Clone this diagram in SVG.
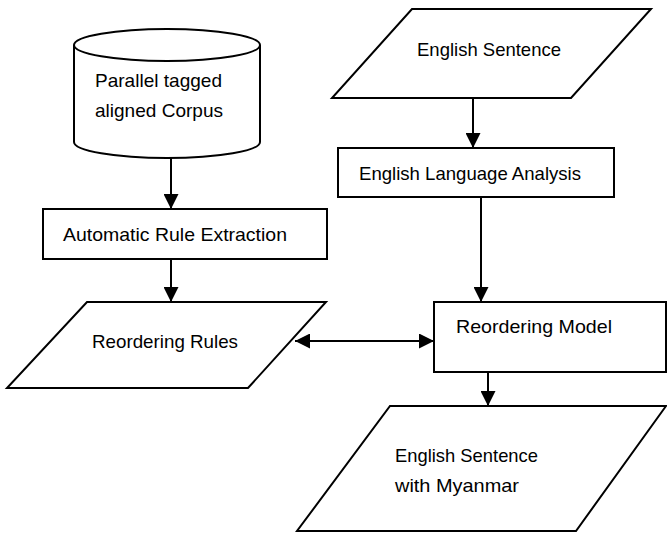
<svg xmlns="http://www.w3.org/2000/svg" width="667" height="533" viewBox="0 0 667 533">
<style>
.shape{fill:#fff;stroke:#000;stroke-width:2}
.lbl{font-family:"Liberation Sans",Arial,sans-serif;font-size:19px;fill:#000}
.conn{stroke:#000;stroke-width:2;fill:none}
</style>
<defs>
<marker id="arr" viewBox="0 0 15 15" refX="15" refY="7.5" markerWidth="15" markerHeight="15" markerUnits="userSpaceOnUse" orient="auto-start-reverse">
<path d="M0,0 L15,7.5 L0,15 z" fill="#000"/>
</marker>
</defs>
<rect width="667" height="533" fill="#fff"/>
<g id="corpus">
<path class="shape" d="M74,45 L74,142 A93,16 0 0 0 260,142 L260,45 A93,16 0 0 0 74,45 Z"/>
<path class="shape" style="fill:none" d="M74,45 A93,16 0 0 0 260,45"/>
<text class="lbl" x="95" y="87" textLength="127" lengthAdjust="spacingAndGlyphs">Parallel tagged</text>
<text class="lbl" x="95" y="117" textLength="128" lengthAdjust="spacingAndGlyphs">aligned Corpus</text>
</g>
<g id="english-sentence">
<polygon class="shape" points="412,9 651,9 571,98 332,98"/>
<text class="lbl" x="417" y="56" textLength="144" lengthAdjust="spacingAndGlyphs">English Sentence</text>
</g>
<g id="english-language-analysis">
<rect class="shape" x="338" y="148" width="276" height="49"/>
<text class="lbl" x="359" y="180" textLength="222" lengthAdjust="spacingAndGlyphs">English Language Analysis</text>
</g>
<g id="automatic-rule-extraction">
<rect class="shape" x="43" y="209" width="284" height="50"/>
<text class="lbl" x="63" y="241" textLength="224" lengthAdjust="spacingAndGlyphs">Automatic Rule Extraction</text>
</g>
<g id="reordering-rules">
<polygon class="shape" points="87,302 326,302 248,388 7,388"/>
<text class="lbl" x="92" y="348" textLength="146" lengthAdjust="spacingAndGlyphs">Reordering Rules</text>
</g>
<g id="reordering-model">
<rect class="shape" x="434" y="302" width="232" height="70"/>
<text class="lbl" x="456" y="333" textLength="156" lengthAdjust="spacingAndGlyphs">Reordering Model</text>
</g>
<g id="english-sentence-myanmar">
<polygon class="shape" points="390,406 666,406 576,531 297,531"/>
<text class="lbl" x="395" y="462" textLength="143" lengthAdjust="spacingAndGlyphs">English Sentence</text>
<text class="lbl" x="395" y="492" textLength="124" lengthAdjust="spacingAndGlyphs">with Myanmar</text>
</g>
<g id="connectors">
<line class="conn" x1="171" y1="158" x2="171" y2="209" marker-end="url(#arr)"/>
<line class="conn" x1="171" y1="259" x2="171" y2="302" marker-end="url(#arr)"/>
<line class="conn" x1="473" y1="98" x2="473" y2="148" marker-end="url(#arr)"/>
<line class="conn" x1="481" y1="197" x2="481" y2="302" marker-end="url(#arr)"/>
<line class="conn" x1="488" y1="372" x2="488" y2="406" marker-end="url(#arr)"/>
<line class="conn" x1="295" y1="341" x2="434" y2="341" marker-start="url(#arr)" marker-end="url(#arr)"/>
</g>
</svg>
